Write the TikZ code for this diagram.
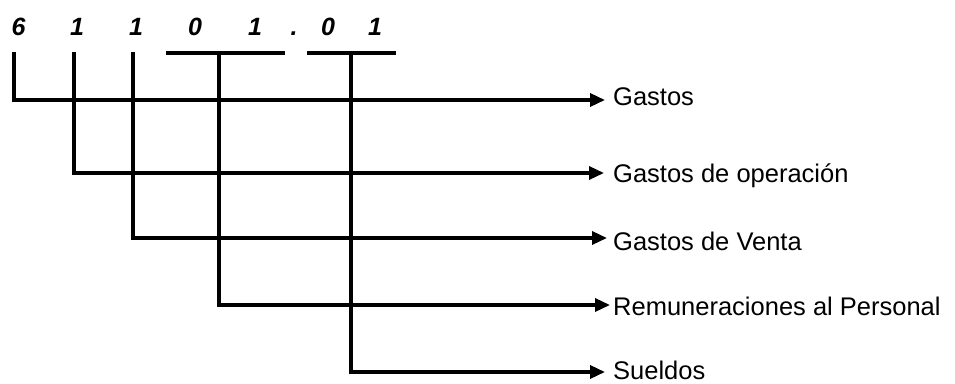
\documentclass[tikz,border=0pt]{standalone}
\usepackage{fontspec}
\setmainfont{Liberation Sans}
\newfontfamily\digfont{Liberation Sans Bold Italic}
\usetikzlibrary{arrows.meta}
\begin{document}
\begin{tikzpicture}[x=1pt,y=-1pt,
  conn/.style={line width=3.4pt},
  arr/.style={conn,-{Triangle[length=15pt,width=13pt]}},
  digit/.style={inner sep=0pt,anchor=base,font=\digfont\fontsize{25}{25}\selectfont},
  lab/.style={inner sep=0pt,anchor=base west,font=\fontsize{25.5}{26}\selectfont}]
\useasboundingbox (0,0) rectangle (955,383);
% digits
\node[digit] (d1) at (18.5,35.5) {6};
\node[digit] (d2) at (77,35.5) {1};
\node[digit] (d3) at (136,35.5) {1};
\node[digit] (d4) at (195,35.5) {0};
\node[digit] (d5) at (255,35.5) {1};
\node[digit] (d6) at (294,35.5) {.};
\node[digit] (d7) at (328,35.5) {0};
\node[digit] (d8) at (375,35.5) {1};
% overlines
\coordinate (o1a) at (166,53);
\coordinate (o1b) at (285,53);
\coordinate (o2a) at (307,53);
\coordinate (o2b) at (396,53);
\draw[conn] (o1a) -- (o1b);
\draw[conn] (o2a) -- (o2b);
% tops of verticals
\coordinate (c1) at (14,52);
\coordinate (c2) at (74,52);
\coordinate (c3) at (133,52);
\coordinate (c4) at (219,53);
\coordinate (c5) at (351,53);
% arrow ends
\coordinate (e1) at (605,100);
\coordinate (e2) at (604,173);
\coordinate (e3) at (607,238);
\coordinate (e4) at (610,305);
\coordinate (e5) at (605,372);
% labels
\node[lab] (l1) at (613,105) {Gastos};
\node[lab] (l2) at (613,182) {Gastos de operación};
\node[lab] (l3) at (613,250) {Gastos de Venta};
\node[lab] (l4) at (613,315) {Remuneraciones al Personal};
\node[lab] (l5) at (613,379) {Sueldos};
% connectors
\draw[arr] (c1) |- (e1);
\draw[arr] (c2) |- (e2);
\draw[arr] (c3) |- (e3);
\draw[arr] (c4) |- (e4);
\draw[arr] (c5) |- (e5);
\end{tikzpicture}
\end{document}
